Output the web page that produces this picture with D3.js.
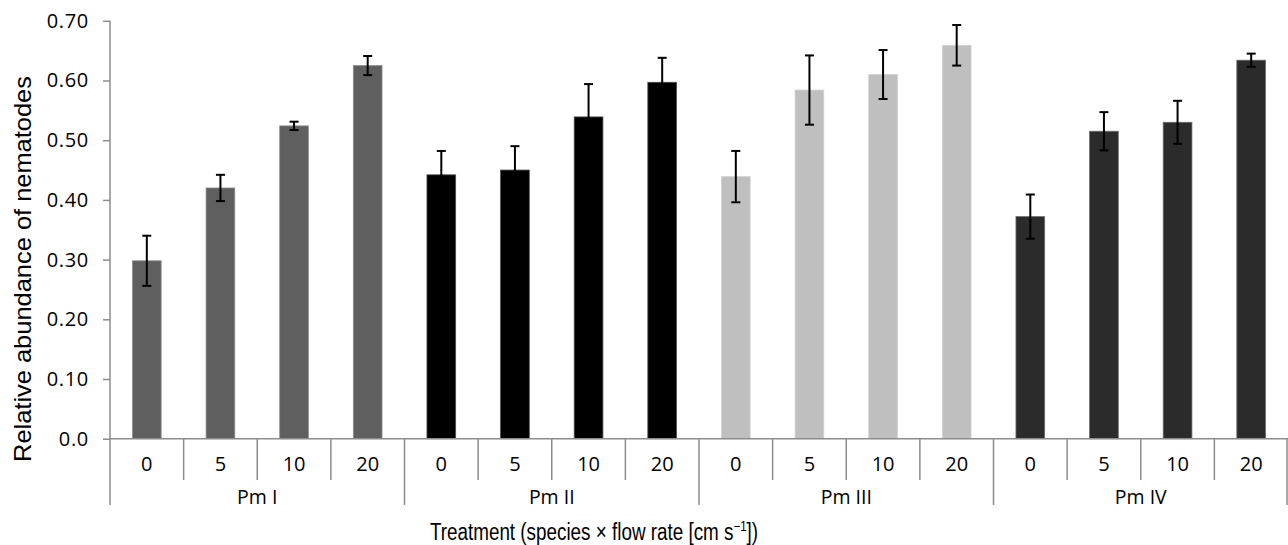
<!DOCTYPE html>
<html>
<head>
<meta charset="utf-8">
<script src="https://cdn.jsdelivr.net/npm/d3@7"></script>
<style>
  body { margin: 0; background: #fff; }
  svg { display: block; }
</style>
</head>
<body>
<svg id="chart" width="1288" height="545"></svg>
<script>
// species groups and flow rates (cm s-1)
var species = ["Pm I", "Pm II", "Pm III", "Pm IV"];
var flowRates = ["0", "5", "10", "20"];

// relative abundance of nematodes, one row per species
var pmI = [0.298, 0.420, 0.524, 0.625];
var pmII = [0.442, 0.450, 0.539, 0.597];
var pmIII = [0.439, 0.584, 0.610, 0.659];
var pmIV = [0.372, 0.515, 0.530, 0.634];

// error bars (+/-)
var errI = [0.042, 0.022, 0.007, 0.016];
var errII = [0.040, 0.040, 0.055, 0.041];
var errIII = [0.043, 0.058, 0.041, 0.034];
var errIV = [0.037, 0.032, 0.036, 0.011];

var yTicks = [0, 0.1, 0.2, 0.3, 0.4, 0.5, 0.6, 0.7];
var yTickLabels = ["0.0", "0.10", "0.20", "0.30", "0.40", "0.50", "0.60", "0.70"];

var barColors = ["#5f5f5f", "#000000", "#bfbfbf", "#2b2b2b"];

var means = [pmI, pmII, pmIII, pmIV];
var errs = [errI, errII, errIII, errIV];

// flatten into rows for drawing
var rows = [];
for (var s = 0; s < species.length; s++) {
    for (var f = 0; f < flowRates.length; f++) {
        rows.push({
            key: species[s] + "|" + flowRates[f],
            sp: s,
            rate: flowRates[f],
            value: means[s][f],
            err: errs[s][f]
        });
    }
}

var svg = d3.select("#chart");
var axisColor = "#8c8c8c";
var tickFont = "'Open Sans', sans-serif";
var titleFont = "'Liberation Sans', Arial, sans-serif";

var x = d3.scaleBand()
    .domain(rows.map(function (d) { return d.key; }))
    .range([110, 1288])
    .padding(0);

var y = d3.scaleLinear()
    .domain([0, 0.7])
    .range([438.7, 20.8]);

var barW = x.step() * 0.39;

// bars
svg.append("g").selectAll("rect")
    .data(rows)
    .enter().append("rect")
    .attr("x", function (d) { return x(d.key) + x.bandwidth() / 2 - barW / 2; })
    .attr("y", function (d) { return y(d.value); })
    .attr("width", barW)
    .attr("height", function (d) { return y(0) - y(d.value); })
    .attr("fill", function (d) { return barColors[d.sp]; })
    .attr("stroke", function (d) { return d3.interpolateRgb(barColors[d.sp], "#fff")(0.3); })
    .attr("stroke-width", 0.8);

// error bars
var eb = svg.append("g").attr("stroke", "#000").attr("stroke-width", 2);
rows.forEach(function (d) {
    var cx = x(d.key) + x.bandwidth() / 2;
    var hi = y(d.value + d.err), lo = y(d.value - d.err);
    eb.append("line").attr("x1", cx).attr("x2", cx).attr("y1", hi).attr("y2", lo);
    eb.append("line").attr("x1", cx - 4.5).attr("x2", cx + 4.5).attr("y1", hi).attr("y2", hi);
    eb.append("line").attr("x1", cx - 4.5).attr("x2", cx + 4.5).attr("y1", lo).attr("y2", lo);
});

// y axis
var yAxis = d3.axisLeft(y)
    .tickValues(yTicks)
    .tickSize(7)
    .tickPadding(14)
    .tickFormat(function (d, i) { return yTickLabels[i]; });

var gy = svg.append("g").attr("transform", "translate(110,0)").call(yAxis);
gy.select(".domain").remove();
gy.selectAll(".tick line").attr("stroke", axisColor).attr("stroke-width", 1.5);
gy.selectAll(".tick text")
    .attr("font-family", tickFont)
    .attr("font-size", 20)
    .attr("letter-spacing", 0.7)
    .attr("fill", "#000");
svg.append("line")
    .attr("x1", 110).attr("x2", 110)
    .attr("y1", y(0.7)).attr("y2", 505)
    .attr("stroke", axisColor).attr("stroke-width", 1.5);

// x axis line
svg.append("line")
    .attr("x1", 110).attr("x2", 1288)
    .attr("y1", y(0)).attr("y2", y(0))
    .attr("stroke", axisColor).attr("stroke-width", 1.5);

// category separators (short) and group separators (long)
var seps = svg.append("g").attr("stroke", axisColor).attr("stroke-width", 1.5);
rows.forEach(function (d, i) {
    if (i === 0) return;
    var bx = x(d.key);
    var isGroup = (i % flowRates.length) === 0;
    seps.append("line")
        .attr("x1", bx).attr("x2", bx)
        .attr("y1", y(0)).attr("y2", isGroup ? 505 : 480);
});
seps.append("line").attr("x1", 1287).attr("x2", 1287).attr("y1", y(0)).attr("y2", 505);

// flow-rate labels
svg.append("g").selectAll("text")
    .data(rows)
    .enter().append("text")
    .attr("x", function (d) { return x(d.key) + x.bandwidth() / 2; })
    .attr("y", 470.5)
    .attr("text-anchor", "middle")
    .attr("font-family", tickFont)
    .attr("font-size", 20)
    .text(function (d) { return d.rate; });

// species labels
svg.append("g").selectAll("text")
    .data(species)
    .enter().append("text")
    .attr("x", function (d) {
        var first = x(d + "|" + flowRates[0]);
        return first + x.step() * flowRates.length / 2;
    })
    .attr("y", 504)
    .attr("text-anchor", "middle")
    .attr("font-family", tickFont)
    .attr("font-size", 19.5)
    .text(function (d) { return d; });

// axis titles
svg.append("text")
    .attr("transform", "translate(31,269) rotate(-90) scale(1.06,1)")
    .attr("text-anchor", "middle")
    .attr("font-family", titleFont)
    .attr("font-size", 24)
    .text("Relative abundance of nematodes");

var xt = svg.append("text")
    .attr("transform", "translate(594,540) scale(0.82,1)")
    .attr("text-anchor", "middle")
    .attr("font-family", titleFont)
    .attr("font-size", 23);
xt.append("tspan").text("Treatment (species \u00d7 flow rate [cm s");
xt.append("tspan").attr("font-size", 14).attr("dy", -9).text("\u22121");
xt.append("tspan").attr("dy", 9).text("])");
</script>
</body>
</html>
